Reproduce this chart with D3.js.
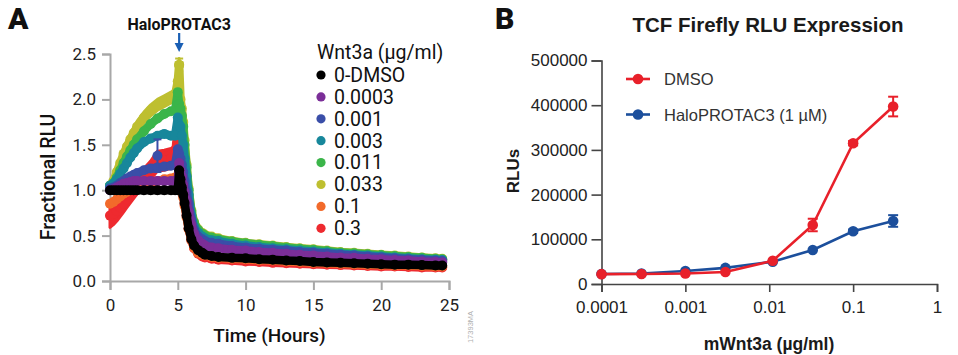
<!DOCTYPE html>
<html><head><meta charset="utf-8">
<script src="https://cdn.jsdelivr.net/npm/d3@7"></script>
<style>body{margin:0;background:#fff}svg{display:block}</style>
</head><body><svg id="c" width="958" height="355"></svg>
<script>
// ---------- Panel A data ----------
const hours = [0,0.25,0.5,0.75,1,1.25,1.5,1.75,2,2.5,3,3.5,4,4.5,4.8,5,5.1,
  5.2,5.3,5.4,5.5,5.65,5.8,6,6.2,6.5,6.8,
  7,7.5,8,9,10,11,12,13,14,15,16,17,18,19,20,21,22,23,24,24.5];
const dmso0 = [1,1,1,1,1,1,1,1,1,1,1,1,1,1,1,1,1.22,
  1.12,1.03,0.95,0.86,0.72,0.58,0.46,0.39,0.34,0.31,
  0.29,0.275,0.265,0.255,0.25,0.24,0.235,0.225,0.22,0.21,0.205,0.2,0.195,0.19,0.185,0.18,0.18,0.175,0.17,0.17];
const w0003 = [1.0,1.01,1.03,1.05,1.07,1.08,1.09,1.1,1.1,1.1,1.1,1.1,1.1,1.1,1.1,1.12,1.3,
  1.22,1.15,1.06,0.98,0.88,0.76,0.62,0.52,0.45,0.41,
  0.39,0.37,0.36,0.345,0.335,0.32,0.31,0.3,0.29,0.28,0.27,0.26,0.255,0.245,0.24,0.23,0.225,0.215,0.21,0.205];
const w001 = [1.02,1.03,1.05,1.08,1.1,1.13,1.15,1.17,1.19,1.22,1.24,1.25,1.26,1.27,1.28,1.45,1.4,
  1.35,1.28,1.2,1.1,0.98,0.85,0.68,0.56,0.49,0.46,
  0.44,0.42,0.41,0.385,0.37,0.355,0.345,0.335,0.32,0.31,0.3,0.29,0.28,0.27,0.26,0.25,0.24,0.235,0.225,0.22];
const w003 = [1.05,1.07,1.12,1.18,1.24,1.3,1.36,1.41,1.46,1.53,1.57,1.6,1.62,1.6,1.6,1.8,1.72,
  1.7,1.6,1.5,1.35,1.15,0.95,0.72,0.6,0.53,0.49,
  0.47,0.45,0.44,0.41,0.39,0.375,0.36,0.35,0.335,0.325,0.315,0.3,0.29,0.28,0.27,0.26,0.25,0.24,0.235,0.23];
const w011 = [1.05,1.08,1.14,1.22,1.3,1.37,1.44,1.5,1.56,1.65,1.73,1.79,1.84,1.87,1.88,2.08,1.95,
  1.9,1.82,1.7,1.5,1.25,1.0,0.76,0.64,0.56,0.52,
  0.5,0.48,0.46,0.435,0.415,0.4,0.385,0.37,0.355,0.345,0.33,0.315,0.305,0.295,0.285,0.275,0.265,0.255,0.245,0.24];
const w033 = [1.05,1.1,1.2,1.3,1.4,1.48,1.56,1.63,1.7,1.8,1.88,1.94,1.98,2.02,2.05,2.2,2.38,
  2.0,1.9,1.75,1.55,1.28,1.02,0.78,0.65,0.57,0.53,
  0.51,0.49,0.47,0.44,0.42,0.405,0.39,0.375,0.36,0.35,0.335,0.32,0.31,0.3,0.29,0.28,0.27,0.26,0.25,0.245];
const w1 = [0.85,0.87,0.9,0.93,0.96,0.98,1.0,1.02,1.04,1.06,1.08,1.1,1.12,1.13,1.14,1.15,1.2,
  1.1,1.0,0.92,0.83,0.7,0.57,0.45,0.37,0.31,0.29,
  0.28,0.265,0.255,0.245,0.24,0.23,0.225,0.215,0.21,0.2,0.195,0.19,0.185,0.18,0.175,0.17,0.17,0.165,0.16,0.16];
const w3 = [0.72,0.74,0.77,0.81,0.85,0.9,0.95,1.0,1.05,1.14,1.22,1.32,1.33,1.35,1.38,1.7,1.5,
  1.2,1.05,0.95,0.85,0.72,0.58,0.45,0.36,0.3,0.27,
  0.26,0.245,0.235,0.225,0.215,0.21,0.2,0.195,0.19,0.185,0.18,0.175,0.17,0.165,0.16,0.16,0.155,0.15,0.15,0.15];
// error half-widths before the HaloPROTAC3 addition (first 17 time points)
const errW3Pre   = [0.13,0.12,0.11,0.1,0.09,0.09,0.09,0.09,0.09,0.1,0.1,0.11,0.11,0.11,0.11,0.3,0.2];
const errW033Pre = [0.03,0.04,0.05,0.05,0.06,0.06,0.06,0.06,0.06,0.06,0.06,0.06,0.06,0.06,0.06,0.1,0.07];
const legendLabelsA = ["0-DMSO","0.0003","0.001","0.003","0.011","0.033","0.1","0.3"];
const colorsA = ["#000000","#7B2E98","#3A4EA8","#17879B","#3BB54A","#BEBF30","#F26A2B","#EE2A2F"];
// single points with error bars: [series index, hour, value, error]
const errA = [[5,5.1,2.38,0.07],[2,3.5,1.38,0.18]];
const xTicksA = [0,5,10,15,20,25];
const yTicksA = [0,0.5,1.0,1.5,2.0,2.5];

// ---------- Panel B data ----------
const concB = [0.0001,0.0003,0.001,0.003,0.011,0.033,0.1,0.3];
const dmsoB = [22000,22500,23500,27000,52000,132000,315000,397000];
const dmsoErrB = [0,0,0,0,0,14000,5000,22000];
const haloB = [22500,23500,29000,36000,50000,76000,118000,141000];
const haloErrB = [0,0,0,0,0,0,4000,13000];
const xTicksB = [0.0001,0.001,0.01,0.1,1];
const xTickLabelsB = ["0.0001","0.001","0.01","0.1","1"];
const yTicksB = [0,100000,200000,300000,400000,500000];

const svg = d3.select("#c");

// ================= Panel A =================
const fA = "Roboto, 'Noto Sans', sans-serif";
const xA = d3.scaleLinear().domain([0,25]).range([110,449]);
const yA = d3.scaleLinear().domain([0,2.5]).range([281,54]);

svg.append("text").attr("x",8).attr("y",29).attr("font-family",fA).attr("font-weight",900)
  .attr("font-size",30).attr("fill","#111").text("A");

const axA = svg.append("g");
const gxA = axA.append("g").attr("transform","translate(0,281)")
  .call(d3.axisBottom(xA).tickValues(xTicksA).tickSize(9).tickPadding(9).tickFormat(d3.format("d")));
const gyA = axA.append("g").attr("transform","translate(110,0)")
  .call(d3.axisLeft(yA).tickValues(yTicksA).tickSize(8).tickPadding(6).tickFormat(d3.format(".1f")));
[gxA,gyA].forEach(g=>{
  g.selectAll("path,line").attr("stroke","#a8a8a8").attr("stroke-width",2);
  g.selectAll("text").attr("font-family",fA).attr("font-size",17).attr("fill","#222");
});

const seriesA = [dmso0,w0003,w001,w003,w011,w033,w1,w3];
const bandsA = {7: errW3Pre, 5: errW033Pre};
const drawOrder = [7,6,5,4,3,2,1,0];
const lineA = d3.line().x((d,i)=>xA(hours[i])).y(d=>yA(d));
const areaA = (vals, errs) => d3.area()
  .x((d,i)=>xA(hours[i])).y0((d,i)=>yA(vals[i]-errs[i])).y1((d,i)=>yA(vals[i]+errs[i]))(errs);
const plotA = svg.append("g");
drawOrder.forEach(si=>{
  const vals = seriesA[si];
  if (bandsA[si]) {
    plotA.append("path").attr("d",areaA(vals, bandsA[si])).attr("fill",colorsA[si])
      .attr("stroke",colorsA[si]).attr("stroke-width",3).attr("stroke-linejoin","round");
  }
  plotA.append("path").attr("d",lineA(vals)).attr("fill","none")
    .attr("stroke",colorsA[si]).attr("stroke-width",8.5).attr("stroke-linejoin","round").attr("stroke-linecap","round");
  plotA.selectAll(null).data(vals).enter().append("circle")
    .attr("cx",(d,i)=>xA(hours[i])).attr("cy",d=>yA(d)).attr("r",5).attr("fill",colorsA[si]);
  errA.filter(e=>e[0]===si).forEach(e=>{
    const x = xA(e[1]);
    plotA.append("line").attr("x1",x).attr("x2",x).attr("y1",yA(e[2]-e[3])).attr("y2",yA(e[2]+e[3]))
      .attr("stroke",colorsA[si]).attr("stroke-width",2);
    [e[2]-e[3], e[2]+e[3]].forEach(v=>plotA.append("line").attr("x1",x-4).attr("x2",x+4)
      .attr("y1",yA(v)).attr("y2",yA(v)).attr("stroke",colorsA[si]).attr("stroke-width",2));
    plotA.append("circle").attr("cx",x).attr("cy",yA(e[2])).attr("r",5).attr("fill",colorsA[si]);
  });
});

// HaloPROTAC3 label + arrow
svg.append("text").attr("x",xA(5.1)).attr("y",29.5).attr("text-anchor","middle")
  .attr("font-family",fA).attr("font-weight",700).attr("font-size",16).attr("fill","#111").text("HaloPROTAC3");
const ax = xA(5.1);
svg.append("line").attr("x1",ax).attr("x2",ax).attr("y1",33).attr("y2",46).attr("stroke","#1a5fb4").attr("stroke-width",2.2);
svg.append("path").attr("d",`M${ax-4.5},43 L${ax+4.5},43 L${ax},52 Z`).attr("fill","#1a5fb4");

// axis titles A
svg.append("text").attr("x",269.5).attr("y",341.5).attr("text-anchor","middle")
  .attr("font-family",fA).attr("font-weight",500).attr("font-size",19).attr("fill","#111").text("Time (Hours)");
svg.append("text").attr("transform","translate(55,177) rotate(-90)").attr("text-anchor","middle")
  .attr("font-family",fA).attr("font-weight",500).attr("font-size",19.5).attr("fill","#111").text("Fractional RLU");

// legend A
const legA = svg.append("g");
legA.append("text").attr("x",317).attr("y",59).attr("font-family",fA).attr("font-size",19.5).attr("fill","#111").text("Wnt3a (µg/ml)");
legendLabelsA.forEach((lab,i)=>{
  const y = 75 + i*21.9;
  legA.append("circle").attr("cx",321).attr("cy",y).attr("r",4.6).attr("fill",colorsA[i]);
  legA.append("text").attr("x",334).attr("y",y+6.8).attr("font-family",fA).attr("font-size",19.5).attr("fill","#111").text(lab);
});

// watermark
svg.append("text").attr("transform","translate(472.5,327) rotate(-90)").attr("text-anchor","middle")
  .attr("font-family","'Liberation Sans', Arial, sans-serif").attr("font-size",7.5).attr("fill","#b0b0b0").text("17393MA");

// ================= Panel B =================
const fB = "'Liberation Sans', Arial, Helvetica, sans-serif";
const xB = d3.scaleLog().domain([0.0001,1]).range([601.5,937]);
const yB = d3.scaleLinear().domain([0,500000]).range([284,60.5]);
const red = "#E8202A", blue = "#1C4F9C";

svg.append("text").attr("x",495).attr("y",29).attr("font-family",fA).attr("font-weight",900)
  .attr("font-size",30).attr("fill","#111").text("B");
svg.append("text").attr("x",768).attr("y",32.3).attr("text-anchor","middle").attr("font-family",fB)
  .attr("font-weight",700).attr("font-size",20.5).attr("fill","#1a1a1a").text("TCF Firefly RLU Expression");

const gxB = svg.append("g").attr("transform","translate(0,284)")
  .call(d3.axisBottom(xB).tickValues(xTicksB).tickSize(8).tickPadding(9).tickFormat((d,i)=>xTickLabelsB[i]));
const gyB = svg.append("g").attr("transform","translate(601.5,0)")
  .call(d3.axisLeft(yB).tickValues(yTicksB).tickSize(10).tickPadding(4).tickFormat(d3.format("d")));
[gxB,gyB].forEach(g=>{
  g.selectAll("path,line").attr("stroke","#444").attr("stroke-width",1.6);
  g.selectAll("text").attr("font-family",fB).attr("font-size",17).attr("fill","#222");
});

svg.append("text").attr("transform","translate(518.5,171) rotate(-90)").attr("text-anchor","middle")
  .attr("font-family",fB).attr("font-weight",700).attr("font-size",17).attr("fill","#1a1a1a").text("RLUs");
svg.append("text").attr("x",769).attr("y",350).attr("text-anchor","middle")
  .attr("font-family",fB).attr("font-weight",700).attr("font-size",17.5).attr("fill","#1a1a1a").text("mWnt3a (µg/ml)");

const lineB = d3.line().x((d,i)=>xB(concB[i])).y(d=>yB(d));
function drawB(vals, errs, col){
  const g = svg.append("g");
  g.append("path").attr("d",lineB(vals)).attr("fill","none").attr("stroke",col).attr("stroke-width",2.6);
  vals.forEach((v,i)=>{
    if(errs[i]>0){
      const x = xB(concB[i]);
      g.append("line").attr("x1",x).attr("x2",x).attr("y1",yB(v-errs[i])).attr("y2",yB(v+errs[i])).attr("stroke",col).attr("stroke-width",2);
      [v-errs[i], v+errs[i]].forEach(e=>g.append("line").attr("x1",x-5).attr("x2",x+5).attr("y1",yB(e)).attr("y2",yB(e)).attr("stroke",col).attr("stroke-width",2));
    }
  });
  g.selectAll(null).data(vals).enter().append("circle")
    .attr("cx",(d,i)=>xB(concB[i])).attr("cy",d=>yB(d)).attr("r",5.3).attr("fill",col);
}
drawB(haloB, haloErrB, blue);
drawB(dmsoB, dmsoErrB, red);

// legend B
[[ "DMSO", red, 79 ], [ "HaloPROTAC3 (1 µM)", blue, 114.5 ]].forEach(([lab,col,y])=>{
  svg.append("line").attr("x1",626).attr("x2",650).attr("y1",y).attr("y2",y).attr("stroke",col).attr("stroke-width",2.6);
  svg.append("circle").attr("cx",638).attr("cy",y).attr("r",5.3).attr("fill",col);
  svg.append("text").attr("x",664).attr("y",y+6).attr("font-family",fB).attr("font-size",16.5).attr("fill","#333").text(lab);
});
</script></body></html>
